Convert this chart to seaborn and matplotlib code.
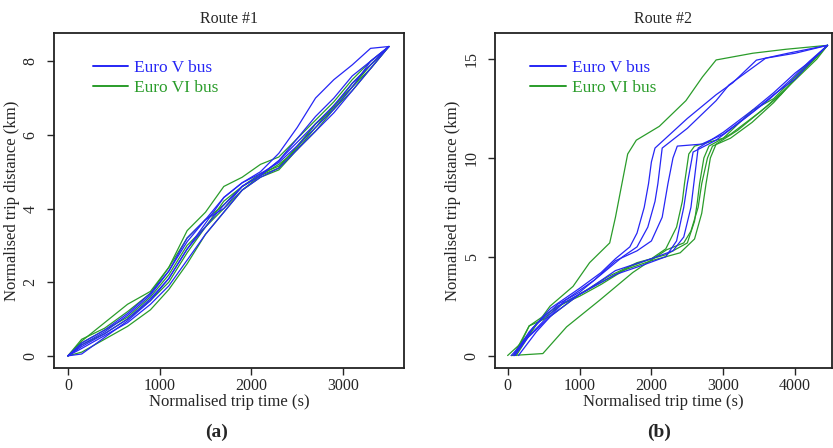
import matplotlib
matplotlib.use("Agg")
import matplotlib.pyplot as plt
import pandas as pd
import seaborn as sns

sns.set_style("white")
plt.rcParams["font.family"] = ["Liberation Serif", "DejaVu Serif"]

BLUE = "#2626f5"
GREEN = "#2a9c2a"

# Route #1 : common time grid (s) and distance (km) per run
route1_time = [0, 150, 400, 650, 900, 1100, 1300, 1500, 1700, 1900, 2100, 2300,
               2500, 2700, 2900, 3100, 3300, 3500]
route1_euro5 = [
    [0, 0.25, 0.6, 1.0, 1.55, 2.1, 2.9, 3.6, 4.3, 4.7, 5.0, 5.5, 6.2, 7.0, 7.5, 7.9, 8.35, 8.4],
    [0, 0.05, 0.5, 0.95, 1.5, 2.1, 2.9, 3.5, 4.1, 4.6, 4.9, 5.3, 5.8, 6.3, 6.8, 7.4, 7.9, 8.4],
    [0, 0.35, 0.7, 1.15, 1.7, 2.3, 3.1, 3.7, 4.3, 4.7, 4.95, 5.25, 5.7, 6.2, 6.7, 7.3, 8.0, 8.4],
    [0, 0.2, 0.55, 0.9, 1.4, 1.9, 2.6, 3.3, 3.9, 4.5, 4.85, 5.1, 5.6, 6.1, 6.6, 7.2, 7.8, 8.4],
    [0, 0.3, 0.65, 1.1, 1.65, 2.3, 3.2, 3.7, 4.0, 4.6, 4.9, 5.3, 5.9, 6.5, 7.0, 7.6, 8.0, 8.4],
]
route1_euro6 = [
    [0, 0.4, 0.9, 1.4, 1.75, 2.4, 3.4, 3.9, 4.6, 4.85, 5.2, 5.4, 5.9, 6.4, 6.9, 7.5, 8.0, 8.4],
    [0, 0.1, 0.45, 0.8, 1.25, 1.8, 2.5, 3.3, 3.9, 4.5, 4.85, 5.05, 5.6, 6.2, 6.8, 7.3, 7.9, 8.4],
    [0, 0.45, 0.75, 1.2, 1.7, 2.4, 3.2, 3.7, 4.1, 4.6, 4.9, 5.1, 5.7, 6.3, 6.7, 7.3, 7.8, 8.4],
    [0, 0.3, 0.6, 1.0, 1.5, 2.0, 2.8, 3.5, 4.0, 4.5, 4.9, 5.2, 5.6, 6.1, 6.7, 7.2, 7.8, 8.4],
    [0, 0.35, 0.7, 1.05, 1.6, 2.2, 3.0, 3.5, 4.2, 4.6, 4.95, 5.15, 5.65, 6.3, 6.75, 7.4, 7.9, 8.4],
]

# Route #2 : each run has its own (time, distance) samples
route2_euro5 = [
    ([80, 300, 600, 1000, 1300, 1500, 1700, 1800, 1900, 1960, 2000, 2050, 2500, 2900, 3130, 3460, 3900, 4450],
     [0, 1.2, 2.4, 3.4, 4.2, 4.9, 5.5, 6.2, 7.5, 8.7, 9.8, 10.5, 12.0, 13.2, 13.8, 14.95, 15.3, 15.7]),
    ([100, 350, 700, 1000, 1400, 1600, 1800, 1950, 2050, 2090, 2150, 2500, 2900, 3080, 3590, 4000, 4450],
     [0, 1.4, 2.6, 3.2, 4.4, 5.0, 5.5, 6.5, 7.8, 8.7, 10.5, 11.5, 12.9, 13.7, 15.05, 15.3, 15.7]),
    ([150, 400, 800, 1200, 1500, 1800, 2000, 2150, 2230, 2300, 2360, 2700, 3000, 3400, 3700, 4000, 4250, 4450],
     [0, 1.2, 2.8, 3.8, 4.8, 5.3, 5.8, 7.0, 8.7, 10.0, 10.6, 10.7, 11.2, 12.3, 13.2, 14.0, 15.0, 15.7]),
    ([100, 300, 700, 1100, 1500, 2000, 2300, 2450, 2550, 2590, 2650, 3000, 3400, 3700, 4000, 4250, 4450],
     [0, 1.0, 2.5, 3.3, 4.3, 4.9, 5.3, 6.0, 7.5, 8.7, 10.5, 11.3, 12.4, 13.3, 14.3, 15.0, 15.7]),
    ([50, 250, 600, 1000, 1500, 1900, 2200, 2350, 2450, 2500, 2580, 2900, 3300, 3650, 3950, 4200, 4450],
     [0, 0.8, 2.0, 3.1, 4.1, 4.6, 5.0, 5.8, 7.5, 8.7, 10.3, 10.9, 12.0, 13.0, 14.0, 14.9, 15.7]),
]
route2_euro6 = [
    ([0, 150, 350, 590, 910, 1140, 1420, 1500, 1590, 1670, 1790, 2110, 2480, 2710, 2900, 3410, 3870, 4450],
     [0, 0.5, 1.3, 2.5, 3.5, 4.7, 5.7, 7.0, 8.7, 10.2, 10.9, 11.6, 12.9, 14.1, 14.96, 15.3, 15.5, 15.7]),
    ([50, 490, 820, 1280, 1740, 2210, 2450, 2550, 2650, 2700, 2780, 2850, 3100, 3400, 3700, 4000, 4250, 4450],
     [0, 0.1, 1.45, 2.8, 4.2, 5.35, 5.7, 6.3, 7.5, 8.7, 10.0, 10.6, 11.0, 11.8, 12.8, 14.0, 15.0, 15.7]),
    ([100, 300, 700, 1000, 1300, 1700, 2000, 2200, 2350, 2430, 2460, 2520, 2600, 3000, 3400, 3700, 4000, 4250, 4450],
     [0, 1.5, 2.5, 3.0, 3.6, 4.5, 4.9, 5.4, 6.5, 7.8, 8.7, 10.2, 10.6, 11.0, 12.4, 13.0, 14.1, 15.0, 15.7]),
    ([80, 300, 600, 1000, 1400, 1800, 2200, 2500, 2600, 2640, 2670, 2730, 2800, 3100, 3500, 3800, 4000, 4300, 4450],
     [0, 1.5, 2.0, 3.1, 4.0, 4.7, 5.1, 5.7, 6.8, 7.8, 8.7, 10.0, 10.6, 11.2, 12.3, 13.2, 14.0, 15.1, 15.7]),
    ([120, 400, 800, 1200, 1600, 2000, 2400, 2600, 2700, 2760, 2820, 2900, 3200, 3600, 3900, 4100, 4300, 4450],
     [0, 1.6, 2.7, 3.5, 4.3, 4.8, 5.2, 5.9, 7.2, 8.7, 10.0, 10.7, 11.4, 12.6, 13.6, 14.3, 15.0, 15.7]),
]


def build_frame():
    rows = []
    for i, run in enumerate(route1_euro5):
        for t, d in zip(route1_time, run):
            rows.append(("Route #1", "Euro V bus", f"r1b{i}", t, d))
    for i, run in enumerate(route1_euro6):
        for t, d in zip(route1_time, run):
            rows.append(("Route #1", "Euro VI bus", f"r1g{i}", t, d))
    for i, (ts, ds) in enumerate(route2_euro5):
        for t, d in zip(ts, ds):
            rows.append(("Route #2", "Euro V bus", f"r2b{i}", t, d))
    for i, (ts, ds) in enumerate(route2_euro6):
        for t, d in zip(ts, ds):
            rows.append(("Route #2", "Euro VI bus", f"r2g{i}", t, d))
    return pd.DataFrame(rows, columns=["route", "bus", "run", "time", "distance"])


def draw_panel(ax, df, route, xlim, ylim, xticks, yticks, tag, tag_x, leg_x):
    sub = df[df["route"] == route]
    # green first so the blue runs sit on top
    sns.lineplot(data=sub, x="time", y="distance", hue="bus", units="run",
                 estimator=None, sort=False, ax=ax, linewidth=0.9,
                 hue_order=["Euro VI bus", "Euro V bus"],
                 palette={"Euro V bus": BLUE, "Euro VI bus": GREEN})
    ax.set_xlim(*xlim)
    ax.set_ylim(*ylim)
    ax.set_xticks(xticks)
    ax.set_yticks(yticks)
    ax.tick_params(axis="x", direction="out", length=5, width=1,
                   labelsize=11.5, pad=2, bottom=True)
    ax.tick_params(axis="y", direction="out", length=5, width=1,
                   labelsize=11.5, pad=6, left=True)
    plt.setp(ax.get_yticklabels(), rotation=90, va="center")
    for s in ax.spines.values():
        s.set_linewidth(1.3)
        s.set_color("#222222")
    ax.set_xlabel("Normalised trip time (s)", fontsize=12, labelpad=0)
    ax.set_ylabel("Normalised trip distance (km)", fontsize=12, labelpad=2)
    ax.set_title(route, fontsize=11.5, pad=7)

    handles, labels = ax.get_legend_handles_labels()
    order = [labels.index("Euro V bus"), labels.index("Euro VI bus")]
    leg = ax.legend([handles[i] for i in order], [labels[i] for i in order],
                    loc="upper left", bbox_to_anchor=(leg_x, 0.965), frameon=False,
                    fontsize=12.5, handlelength=2.05, handletextpad=0.35,
                    labelspacing=0.2)
    for line, text in zip(leg.get_lines(), leg.get_texts()):
        line.set_linewidth(1.4)
        text.set_color(line.get_color())

    ax.figure.text(tag_x, 0.035, tag, ha="center", va="center",
                   fontsize=14, fontweight="bold")


def main():
    df = build_frame()
    fig = plt.figure(figsize=(8.33, 4.48), dpi=100)
    ax1 = fig.add_axes([0.0648, 0.1786, 0.420, 0.748])
    ax2 = fig.add_axes([0.5942, 0.1786, 0.4046, 0.748])

    draw_panel(ax1, df, "Route #1", (-152, 3663), (-0.33, 8.77),
               [0, 1000, 2000, 3000], [0, 2, 4, 6, 8], "(a)", 0.2605, 0.066)
    draw_panel(ax2, df, "Route #2", (-176, 4512), (-0.63, 16.33),
               [0, 1000, 2000, 3000, 4000], [0, 5, 10, 15], "(b)", 0.791, 0.059)

    fig.savefig("out.png", dpi=100)
    plt.close(fig)


if __name__ == "__main__":
    main()
